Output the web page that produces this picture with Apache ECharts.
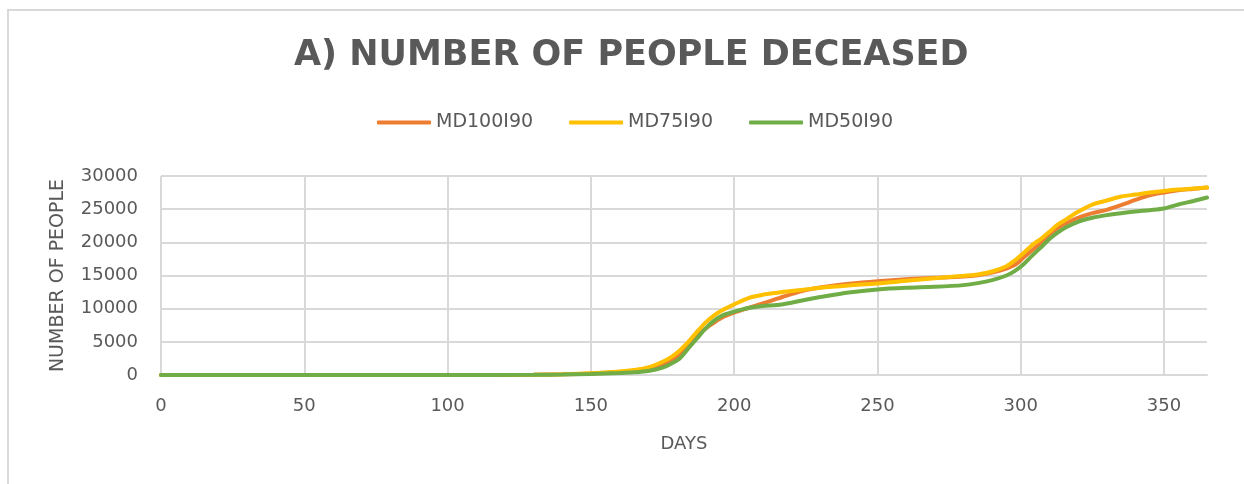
<!DOCTYPE html>
<html>
<head>
<meta charset="utf-8">
<title>Number of people deceased</title>
<script src="https://cdn.jsdelivr.net/npm/echarts@6.0.0/dist/echarts.min.js"></script>
<style>
    html, body {
        margin: 0;
        padding: 0;
        background: #fff;
        overflow: hidden;
    }
    #frame {
        position: absolute;
        left: 7px;
        top: 9px;
        width: 1400px;
        height: 700px;
        border: 2px solid #d9d9d9;
    }
    #main {
        position: absolute;
        left: 0;
        top: 0;
        width: 1244px;
        height: 484px;
    }
</style>
</head>
<body>
<div id="frame"></div>
<div id="main"></div>
<script>
// days on the x axis
var days = [0, 100, 130, 140, 150, 160, 165, 170, 175, 178, 181, 184, 187, 190, 193, 196, 200,
    205, 210, 215, 220, 225, 230, 240, 250, 260, 270, 280, 285, 290, 295, 298, 301, 304, 307,
    310, 313, 316, 320, 325, 330, 335, 340, 345, 350, 355, 360, 365];

var md100 = [0, 0, 30, 100, 220, 450, 600, 850, 1550, 2200, 3000, 4500, 5900, 7000, 7900, 8700, 9400,
    10100, 10800, 11500, 12200, 12800, 13200, 13750, 14150, 14450, 14650, 14850, 15050, 15450, 16050, 16600, 17700, 18800, 19950,
    21200, 22200, 22900, 23700, 24400, 24900, 25600, 26400, 27100, 27500, 27850, 28050, 28250];

var md75 = [0, 0, 30, 100, 250, 520, 750, 1150, 2000, 2700, 3700, 5000, 6500, 7900, 9000, 9800, 10650,
    11600, 12100, 12400, 12650, 12900, 13150, 13500, 13800, 14200, 14600, 14950, 15150, 15600, 16400, 17300, 18400, 19600, 20500,
    21600, 22700, 23500, 24600, 25700, 26300, 26900, 27200, 27500, 27750, 27950, 28100, 28250];

var md50 = [0, 0, 20, 60, 150, 300, 400, 600, 1100, 1700, 2500, 4000, 5500, 7000, 8200, 9000, 9550,
    10100, 10400, 10550, 10900, 11350, 11750, 12450, 12900, 13150, 13300, 13550, 13850, 14300, 15000, 15700, 16700, 18000, 19200,
    20500, 21500, 22300, 23100, 23700, 24100, 24400, 24650, 24850, 25100, 25700, 26200, 26750];

var seriesNames = ['MD100I90', 'MD75I90', 'MD50I90'];
var seriesColors = ['#ED7D31', '#FFC000', '#70AD47'];

function pairs(vals) {
    return days.map(function (d, i) { return [d, vals[i]]; });
}

var font = 'DejaVu Sans';
var grey = '#595959';

var myChart = echarts.init(document.getElementById('main'));
myChart.setOption({
    animation: false,
    title: {
        text: 'A) NUMBER OF PEOPLE DECEASED',
        left: 294,
        top: 38,
        padding: 0,
        textStyle: {
            fontFamily: font,
            fontSize: 35,
            fontWeight: 'bold',
            color: grey
        }
    },
    legend: {
        top: 113,
        left: 377,
        padding: 0,
        itemWidth: 54,
        itemHeight: 4,
        itemGap: 36,
        icon: 'roundRect',
        data: seriesNames,
        textStyle: {
            fontFamily: font,
            fontSize: 19,
            color: grey
        }
    },
    grid: {
        left: 161,
        right: 37,
        top: 176,
        bottom: 109
    },
    xAxis: {
        type: 'value',
        min: 0,
        max: 365,
        interval: 50,
        name: 'DAYS',
        nameLocation: 'middle',
        nameGap: 60,
        nameTextStyle: {
            fontFamily: font,
            fontSize: 18,
            color: grey
        },
        axisLine: { show: true, lineStyle: { color: '#d9d9d9', width: 2 } },
        axisTick: { show: false },
        axisLabel: {
            margin: 22,
            showMaxLabel: false,
            fontFamily: font,
            fontSize: 18,
            color: grey
        },
        splitLine: {
            show: true,
            showMaxLine: false,
            lineStyle: { color: '#d9d9d9', width: 2 }
        }
    },
    yAxis: {
        type: 'value',
        min: 0,
        max: 30000,
        interval: 5000,
        name: 'NUMBER OF PEOPLE',
        nameLocation: 'middle',
        nameGap: 93,
        nameTextStyle: {
            fontFamily: font,
            fontSize: 19,
            color: grey
        },
        axisLine: { show: false },
        axisTick: { show: false },
        axisLabel: {
            margin: 23,
            fontFamily: font,
            fontSize: 18,
            color: grey,
            formatter: function (v) { return String(v); }
        },
        splitLine: {
            lineStyle: { color: '#d9d9d9', width: 2 }
        }
    },
    series: [
        {
            name: seriesNames[0],
            type: 'line',
            smooth: 0.3,
            showSymbol: false,
            color: seriesColors[0],
            lineStyle: { width: 4, cap: 'round' },
            data: pairs(md100)
        },
        {
            name: seriesNames[1],
            type: 'line',
            smooth: 0.3,
            showSymbol: false,
            color: seriesColors[1],
            lineStyle: { width: 4, cap: 'round' },
            data: pairs(md75)
        },
        {
            name: seriesNames[2],
            type: 'line',
            smooth: 0.3,
            showSymbol: false,
            color: seriesColors[2],
            lineStyle: { width: 4, cap: 'round' },
            data: pairs(md50)
        }
    ]
});
</script>
</body>
</html>
